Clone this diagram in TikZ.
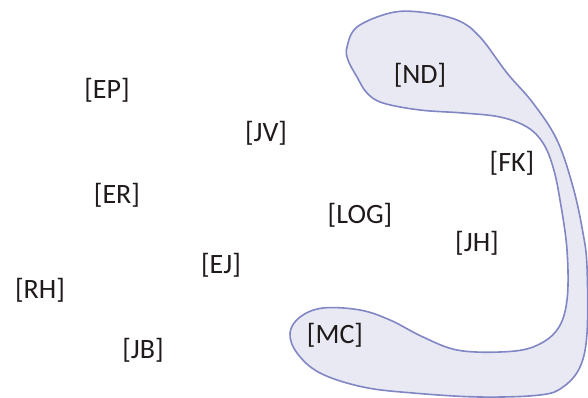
\documentclass[tikz,border=0pt]{standalone}
\usepackage{fontspec}
\setmainfont{Carlito}
\usepackage{xcolor}
\usepackage{tikz}
\usetikzlibrary{calc}

\definecolor{blobfill}{HTML}{E8E9F3}
\definecolor{blobline}{HTML}{8186C4}
\definecolor{tagtext}{HTML}{201A1A}

\begin{document}
\begin{tikzpicture}[x=1pt,y=-1pt,
    tag/.style={text=tagtext,font=\fontsize{28}{30}\selectfont,inner sep=0pt}]
    \useasboundingbox (0,0) rectangle (588,397);
    
    % The group outline (C-shaped region)
    \draw[blobline,line width=1.6pt,fill=blobfill] plot[smooth cycle,tension=0.6] coordinates {
        (347,47) (357,27) (390,13) (420,12) (457,20) (480,37) (507,73)
        (533,103) (557,140) (573,187) (583,233) (587,267) (587,333)
        (580,367) (563,387) (540,395) (480,397) (413,393) (363,387)
        (320,373) (297,353) (290,333) (300,317) (323,308) (360,310)
        (390,320) (423,337) (457,350) (500,352) (533,347) (557,330)
        (567,300) (567,250) (560,200) (553,167) (543,143) (527,127)
        (500,117) (463,113) (420,110) (383,103) (367,93) (357,77) (348,60)};
    
    % Members inside the group
    \node[tag] (ND) at (420,75) {[ND]};
    \node[tag] (FK) at (512,163) {[FK]};
    \node[tag] (JH) at (477,243) {[JH]};
    \node[tag] (MC) at (335,335) {[MC]};
    
    % Members outside the group
    \node[tag] (EP) at (107,90) {[EP]};
    \node[tag] (JV) at (266,133) {[JV]};
    \node[tag] (ER) at (117,195) {[ER]};
    \node[tag] (LOG) at (360,215) {[LOG]};
    \node[tag] (EJ) at (221,265) {[EJ]};
    \node[tag] (RH) at (40,290) {[RH]};
    \node[tag] (JB) at (143,350) {[JB]};
\end{tikzpicture}
\end{document}
